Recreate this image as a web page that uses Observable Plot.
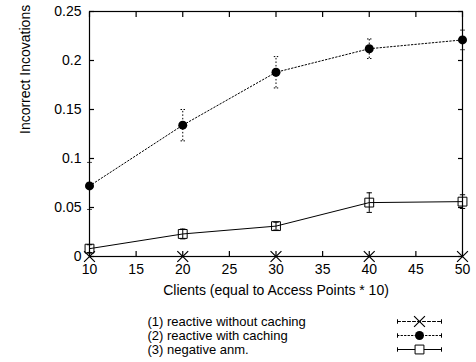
<!DOCTYPE html>
<html>
<head>
<meta charset="utf-8">
<script src="https://cdn.jsdelivr.net/npm/d3@7"></script>
<script src="https://cdn.jsdelivr.net/npm/@observablehq/plot@0.6"></script>
<style>
  html, body { margin: 0; padding: 0; background: #fff; }
  #chart svg { display: block; }
</style>
</head>
<body>
<div id="chart"></div>
<script>
// ---- data ----
const clients = [10, 20, 30, 40, 50];
const s1Values = [0, 0, 0, 0, 0];
const s1Err = [0, 0, 0, 0, 0];
const s2Values = [0.072, 0.134, 0.188, 0.212, 0.221];
const s2Err = [0.024, 0.016, 0.016, 0.010, 0.010];
const s3Values = [0.008, 0.023, 0.031, 0.055, 0.056];
const s3Err = [0.004, 0.005, 0.004, 0.010, 0.007];
const seriesNames = ["(1) reactive without caching", "(2) reactive with caching", "(3) negative anm."];
const xTicks = [10, 15, 20, 25, 30, 35, 40, 45, 50];
const yTicks = [0, 0.05, 0.1, 0.15, 0.2, 0.25];
const xLabel = "Clients (equal to Access Points * 10)";
const yLabel = "Incorrect Incovations";

const FONT = "'Liberation Sans', Arial, Helvetica, sans-serif";
const FS = 14;
const LFS = 13;

function rows(vals, errs) {
  return clients.map((c, i) => ({x: c, y: vals[i], lo: vals[i] - errs[i], hi: vals[i] + errs[i]}));
}
const d1 = rows(s1Values, s1Err);
const d2 = rows(s2Values, s2Err);
const d3s = rows(s3Values, s3Err);

// horizontal bar symbol for error-bar caps
const capSymbol = {
  draw(ctx, size) {
    const w = Math.sqrt(size) / 2;
    ctx.moveTo(-w, 0);
    ctx.lineTo(w, 0);
  }
};

const main = Plot.plot({
  width: 476,
  height: 305,
  marginTop: 11,
  marginBottom: 49,
  marginLeft: 89,
  marginRight: 14,
  style: {fontFamily: FONT, fontSize: FS + "px", color: "#000", background: "#fff"},
  x: {domain: [10, 50]},
  y: {domain: [0, 0.25]},
  marks: [
    // series 1
    Plot.line(d1, {x: "x", y: "y", stroke: "#000", strokeWidth: 1, strokeDasharray: "3,2"}),
    Plot.dot(d1, {x: "x", y: "y", symbol: "times", r: 5, stroke: "#000", strokeWidth: 1.2}),
    // series 2
    Plot.ruleX(d2, {x: "x", y1: "lo", y2: "hi", stroke: "#000", strokeWidth: 1, strokeDasharray: "1.5,2"}),
    Plot.dot(d2, {x: "x", y: "lo", symbol: capSymbol, r: 2.5, stroke: "#000", strokeWidth: 1, strokeDasharray: "1.5,1.5"}),
    Plot.dot(d2, {x: "x", y: "hi", symbol: capSymbol, r: 2.5, stroke: "#000", strokeWidth: 1, strokeDasharray: "1.5,1.5"}),
    Plot.line(d2, {x: "x", y: "y", stroke: "#000", strokeWidth: 1, strokeDasharray: "1.5,2"}),
    Plot.dot(d2, {x: "x", y: "y", r: 4.5, fill: "#000", stroke: "none"}),
    // series 3
    Plot.ruleX(d3s, {x: "x", y1: "lo", y2: "hi", stroke: "#000", strokeWidth: 1}),
    Plot.dot(d3s, {x: "x", y: "lo", symbol: capSymbol, r: 3, stroke: "#000", strokeWidth: 1}),
    Plot.dot(d3s, {x: "x", y: "hi", symbol: capSymbol, r: 3, stroke: "#000", strokeWidth: 1}),
    Plot.line(d3s, {x: "x", y: "y", stroke: "#000", strokeWidth: 1}),
    Plot.dot(d3s, {x: "x", y: "y", symbol: "square", r: 5, fill: "none", stroke: "#000", strokeWidth: 1}),
    // axes: ticks inward, mirrored
    Plot.axisX({ticks: xTicks, tickSize: -5, tickPadding: 13, anchor: "bottom", stroke: "#000", strokeWidth: 1.2, fontSize: FS, label: null}),
    Plot.axisX({ticks: xTicks, tickSize: -5, anchor: "top", stroke: "#000", strokeWidth: 1.2, tickFormat: () => "", label: null}),
    Plot.axisY({ticks: yTicks, tickSize: -5, tickPadding: 13, anchor: "left", stroke: "#000", strokeWidth: 1.2, fontSize: FS, tickFormat: d3.format("~g"), label: null}),
    Plot.axisY({ticks: yTicks, tickSize: -5, anchor: "right", stroke: "#000", strokeWidth: 1.2, tickFormat: () => "", label: null}),
    Plot.frame({stroke: "#000", strokeWidth: 1.2}),
    // axis titles
    Plot.text([xLabel], {frameAnchor: "bottom", dy: 38, text: d => d, fontSize: FS, fill: "#000"}),
    Plot.text([yLabel], {frameAnchor: "left", dx: -64, rotate: -90, text: d => d, fontSize: FS, fill: "#000"})
  ]
});

// legend (below the chart)
const legendRows = seriesNames.map((name, i) => ({name, k: i + 1}));
const legendSamples = [1, 2, 3].flatMap(k => [{k, x: 0}, {k, x: 1}]);
const legendMarks = legendRows.map(r => ({k: r.k, x: 0.5}));
const styles = [
  {dash: "3,2"},
  {dash: "1.5,2"},
  {dash: null}
];

const legend = Plot.plot({
  width: 476,
  height: 57,
  marginTop: 0,
  marginBottom: 0,
  marginLeft: 147,
  marginRight: 35,
  style: {fontFamily: FONT, fontSize: LFS + "px", color: "#000", background: "#fff"},
  x: {domain: [0, 1], range: [397, 441], axis: null},
  y: {domain: [1, 2, 3], type: "point", range: [15, 44], padding: 0, axis: null},
  marks: [
    ...[1, 2, 3].map(k => Plot.line(legendSamples.filter(d => d.k === k), {x: "x", y: "k", stroke: "#000", strokeWidth: 1, strokeDasharray: styles[k - 1].dash})),
    Plot.dot(legendSamples, {x: "x", y: "k", symbol: {draw(ctx, size) { const h = Math.sqrt(size) / 2; ctx.moveTo(0, -h); ctx.lineTo(0, h); }}, r: 2.5, stroke: "#000", strokeWidth: 1}),
    Plot.dot(legendMarks.filter(d => d.k === 1), {x: "x", y: "k", symbol: "times", r: 5, stroke: "#000", strokeWidth: 1.2}),
    Plot.dot(legendMarks.filter(d => d.k === 2), {x: "x", y: "k", r: 4.5, fill: "#000", stroke: "none"}),
    Plot.dot(legendMarks.filter(d => d.k === 3), {x: "x", y: "k", symbol: "square", r: 5, fill: "#fff", stroke: "#000", strokeWidth: 1}),
    Plot.text(legendRows, {y: "k", frameAnchor: "left", text: "name", textAnchor: "start", fontSize: LFS, fill: "#000"})
  ]
});

document.getElementById("chart").append(main, legend);
</script>
</body>
</html>
